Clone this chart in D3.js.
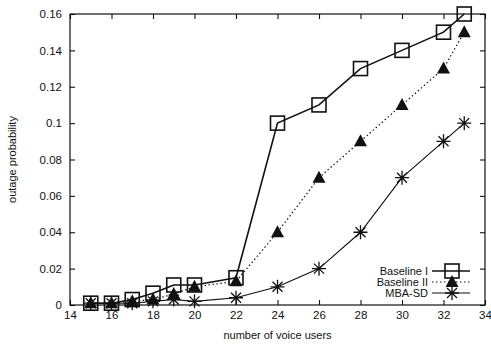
<!DOCTYPE html>
<html>
<head>
<meta charset="utf-8">
<script src="https://cdn.jsdelivr.net/npm/d3@7"></script>
<style>
  body { margin: 0; background: #fff; }
  text { font-family: "Liberation Sans", Arial, sans-serif; fill: #111; }
</style>
</head>
<body>
<div id="chart"></div>
<script>
// Data
//-------------------------------------------------------
var voiceUsers = [15, 16, 17, 18, 19, 20, 22, 24, 26, 28, 30, 32, 33];
var baselineI  = [0.001, 0.001, 0.003, 0.0065, 0.011, 0.011, 0.015, 0.1, 0.11, 0.13, 0.14, 0.15, 0.16];
var baselineII = [0.001, 0.001, 0.002, 0.003, 0.006, 0.01, 0.013, 0.04, 0.07, 0.09, 0.11, 0.13, 0.15];
var mbaSD      = [0.001, 0.001, 0.001, 0.002, 0.003, 0.002, 0.004, 0.01, 0.02, 0.04, 0.07, 0.09, 0.1];
var seriesNames = ["Baseline I", "Baseline II", "MBA-SD"];
var xTicks = [14, 16, 18, 20, 22, 24, 26, 28, 30, 32, 34];
var yTicks = [0, 0.02, 0.04, 0.06, 0.08, 0.1, 0.12, 0.14, 0.16];

// SVG setup
//-------------------------------------------------------
var svgWidth = 491;
var svgHeight = 347;
var margin = { top: 14, right: 5, bottom: 42, left: 70 };
var chartWidth = 485 - margin.left;
var chartHeight = 305 - margin.top;

var svg = d3.select("#chart")
    .append("svg")
    .attr("width", svgWidth)
    .attr("height", svgHeight);

var chartGroup = svg.append("g")
    .attr("transform", `translate(${margin.left}, ${margin.top})`);

var x = d3.scaleLinear().domain([14, 34]).range([0, chartWidth]);
var y = d3.scaleLinear().domain([0, 0.16]).range([chartHeight, 0]);

// Frame
chartGroup.append("rect")
    .attr("width", chartWidth)
    .attr("height", chartHeight)
    .attr("fill", "none")
    .attr("stroke", "#111")
    .attr("stroke-width", 1.2);

// Axes (gnuplot style: inward ticks, mirrored)
//-------------------------------------------------------
var tickLen = 5;
var bottomAxis = d3.axisBottom(x).tickValues(xTicks).tickSize(-tickLen).tickPadding(6).tickFormat(d3.format("d"));
var leftAxis = d3.axisLeft(y).tickValues(yTicks).tickSize(-tickLen).tickPadding(8)
    .tickFormat(d => d === 0 ? "0" : d3.format(".2~f")(d));
var topAxis = d3.axisTop(x).tickValues(xTicks).tickSize(-tickLen).tickFormat("");
var rightAxis = d3.axisRight(y).tickValues(yTicks).tickSize(-tickLen).tickFormat("");

chartGroup.append("g").attr("transform", `translate(0, ${chartHeight})`).call(bottomAxis);
chartGroup.append("g").call(leftAxis);
chartGroup.append("g").call(topAxis);
chartGroup.append("g").attr("transform", `translate(${chartWidth}, 0)`).call(rightAxis);

chartGroup.selectAll(".domain").remove();
chartGroup.selectAll(".tick line").attr("stroke", "#111").attr("stroke-width", 1.1);
chartGroup.selectAll(".tick text")
    .style("font-family", "'Liberation Sans', Arial, sans-serif")
    .style("font-size", "11.5px")
    .attr("fill", "#111");

// Axis titles
svg.append("text")
    .attr("x", margin.left + chartWidth / 2)
    .attr("y", 339)
    .attr("text-anchor", "middle")
    .style("font-size", "11px")
    .text("number of voice users");

svg.append("text")
    .attr("transform", `translate(16, ${margin.top + chartHeight / 2}) rotate(-90)`)
    .attr("text-anchor", "middle")
    .style("font-size", "11px")
    .text("outage probability");

// Markers
//-------------------------------------------------------
function drawSquare(g, cx, cy) {
    g.append("rect")
        .attr("x", cx - 7).attr("y", cy - 7)
        .attr("width", 14).attr("height", 14)
        .attr("fill", "none").attr("stroke", "#111").attr("stroke-width", 1.6);
}
function drawTriangle(g, cx, cy) {
    g.append("path")
        .attr("d", `M${cx},${cy - 7}L${cx + 6.5},${cy + 5}L${cx - 6.5},${cy + 5}Z`)
        .attr("fill", "#111");
}
function drawStar(g, cx, cy) {
    var r = 7, d = 5;
    g.append("path")
        .attr("d", `M${cx - r},${cy}L${cx + r},${cy}M${cx},${cy - r}L${cx},${cy + r}` +
            `M${cx - d},${cy - d}L${cx + d},${cy + d}M${cx - d},${cy + d}L${cx + d},${cy - d}`)
        .attr("stroke", "#111").attr("stroke-width", 1.3).attr("fill", "none");
}

var seriesList = [
    { values: baselineI, dash: null, width: 1.6, marker: drawSquare },
    { values: baselineII, dash: "1.5,2.5", width: 1.2, marker: drawTriangle },
    { values: mbaSD, dash: null, width: 1.1, marker: drawStar }
];

var line = d3.line().x(d => x(d[0])).y(d => y(d[1]));

seriesList.forEach(function(s) {
    var pts = voiceUsers.map((u, i) => [u, s.values[i]]);
    chartGroup.append("path")
        .datum(pts)
        .attr("d", line)
        .attr("fill", "none")
        .attr("stroke", "#111")
        .attr("stroke-width", s.width)
        .attr("stroke-dasharray", s.dash);
    var mg = chartGroup.append("g");
    pts.forEach(p => s.marker(mg, x(p[0]), y(p[1])));
});

// Legend
//-------------------------------------------------------
var legendY = [271, 282, 293];
seriesList.forEach(function(s, i) {
    var ly = legendY[i];
    svg.append("text")
        .attr("x", 428)
        .attr("y", ly + 4)
        .attr("text-anchor", "end")
        .style("font-size", "11px")
        .text(seriesNames[i]);
    svg.append("line")
        .attr("x1", 432).attr("x2", 470)
        .attr("y1", ly).attr("y2", ly)
        .attr("stroke", "#111")
        .attr("stroke-width", s.width)
        .attr("stroke-dasharray", s.dash);
    s.marker(svg, 452, ly);
});
</script>
</body>
</html>
